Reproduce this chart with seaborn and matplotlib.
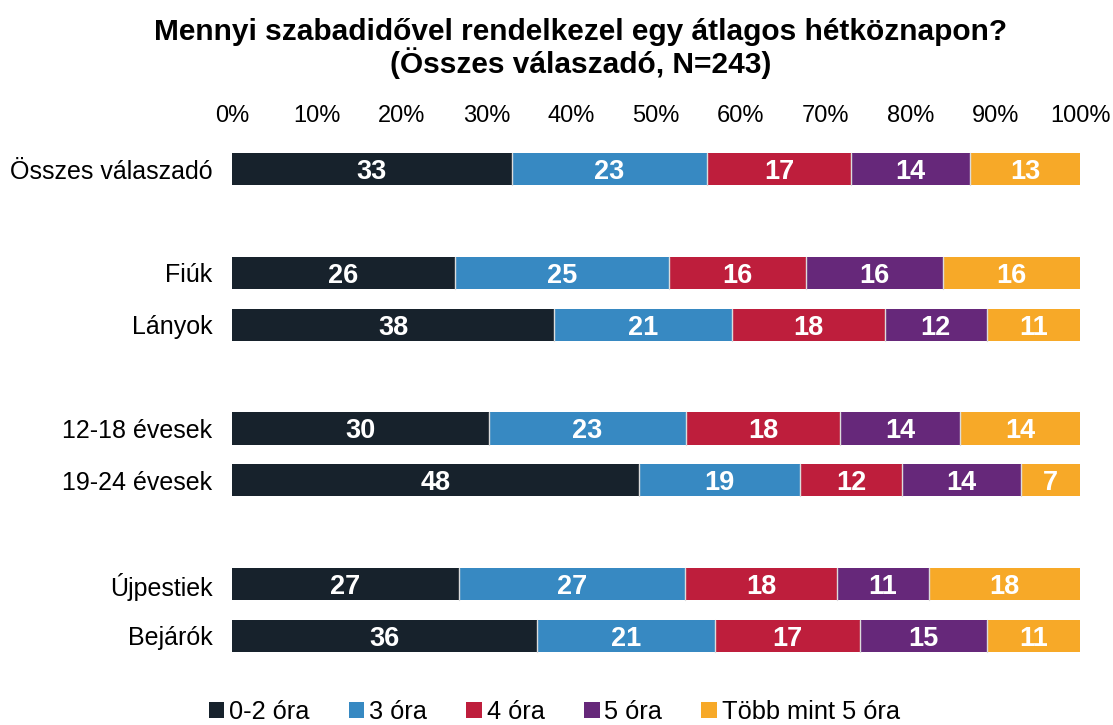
import numpy as np
import pandas as pd
import matplotlib
matplotlib.use("Agg")
import matplotlib.pyplot as plt
import seaborn as sns
from matplotlib.patches import Patch

# Adatok
csoportok = ["Összes válaszadó", "Fiúk", "Lányok", "12-18 évesek", "19-24 évesek", "Újpestiek", "Bejárók"]
kategoriak = ["0-2 óra", "3 óra", "4 óra", "5 óra", "Több mint 5 óra"]
ora_0_2 = [33, 26, 38, 30, 48, 27, 36]
ora_3 = [23, 25, 21, 23, 19, 27, 21]
ora_4 = [17, 16, 18, 18, 12, 18, 17]
ora_5 = [14, 16, 12, 14, 14, 11, 15]
tobb_5 = [13, 16, 11, 14, 7, 18, 11]

szinek = ["#17222c", "#3789c2", "#be1e3c", "#66287a", "#f7a928"]

# sorrend üres helyekkel a csoportok között
sorrend = ["Összes válaszadó", " ", "Fiúk", "Lányok", "  ", "12-18 évesek", "19-24 évesek", "   ", "Újpestiek", "Bejárók"]

sns.set_theme(style="white")
plt.rcParams["font.family"] = ["Liberation Sans", "DejaVu Sans"]
plt.rcParams["text.color"] = "black"
plt.rcParams["xtick.color"] = "black"
plt.rcParams["ytick.color"] = "black"

ertekek = np.array([ora_0_2, ora_3, ora_4, ora_5, tobb_5], dtype=float).T
osszeg = ertekek.sum(axis=1, keepdims=True)
kum = np.cumsum(ertekek, axis=1) / osszeg * 100

fig = plt.figure(figsize=(11.13, 7.25), dpi=100)
ax = fig.add_axes([232 / 1113, 1 - 667 / 725, 848 / 1113, (667 - 138) / 725])

# halmozott sávok: a kumulált összegeket hátulról előre rajzoljuk
for i in range(len(kategoriak) - 1, -1, -1):
    df = pd.DataFrame({"csoport": csoportok, "kum": kum[:, i]})
    sns.barplot(data=df, y="csoport", x="kum", order=sorrend, color=szinek[i],
                width=0.62, orient="h", ax=ax, saturation=1, linewidth=0)

# vékony világos elválasztók a szakaszok között
for r, cs in enumerate(csoportok):
    pos = sorrend.index(cs)
    for i in range(len(kategoriak) - 1):
        ax.plot([kum[r, i], kum[r, i]], [pos - 0.31, pos + 0.31], color="#dcdcdc", lw=1)

# értékcímkék
for r, cs in enumerate(csoportok):
    pos = sorrend.index(cs)
    bal = 0
    for i in range(len(kategoriak)):
        jobb = kum[r, i]
        ax.text((bal + jobb) / 2, pos, f"{int(ertekek[r, i])}", ha="center", va="center_baseline",
                color="white", fontsize=19.5, fontweight="bold")
        bal = jobb

ax.set_xlim(0, 100)
ax.set_ylim(len(sorrend) - 0.4, -0.6)
ax.xaxis.tick_top()
ax.set_xticks(np.arange(0, 101, 10))
ax.set_xticklabels([f"{t}%" for t in range(0, 101, 10)], fontsize=17)
ax.tick_params(axis="x", length=0, pad=8)
ax.tick_params(axis="y", length=0, labelsize=18, pad=14)
ax.set_xlabel("")
ax.set_ylabel("")
for s in ax.spines.values():
    s.set_visible(False)

fig.suptitle("Mennyi szabadidővel rendelkezel egy átlagos hétköznapon?\n(Összes válaszadó, N=243)",
             x=0.522, y=0.975, fontsize=21.5, fontweight="bold", linespacing=1.05)

kezelok = [Patch(facecolor=c, edgecolor="none") for c in szinek]
fig.legend(kezelok, kategoriak, loc="lower center", bbox_to_anchor=(0.498, -0.03), ncol=5,
           frameon=False, fontsize=18.25, handlelength=0.62, handleheight=0.62,
           handletextpad=0.18, columnspacing=1.55)

fig.savefig("out.png", dpi=100)
